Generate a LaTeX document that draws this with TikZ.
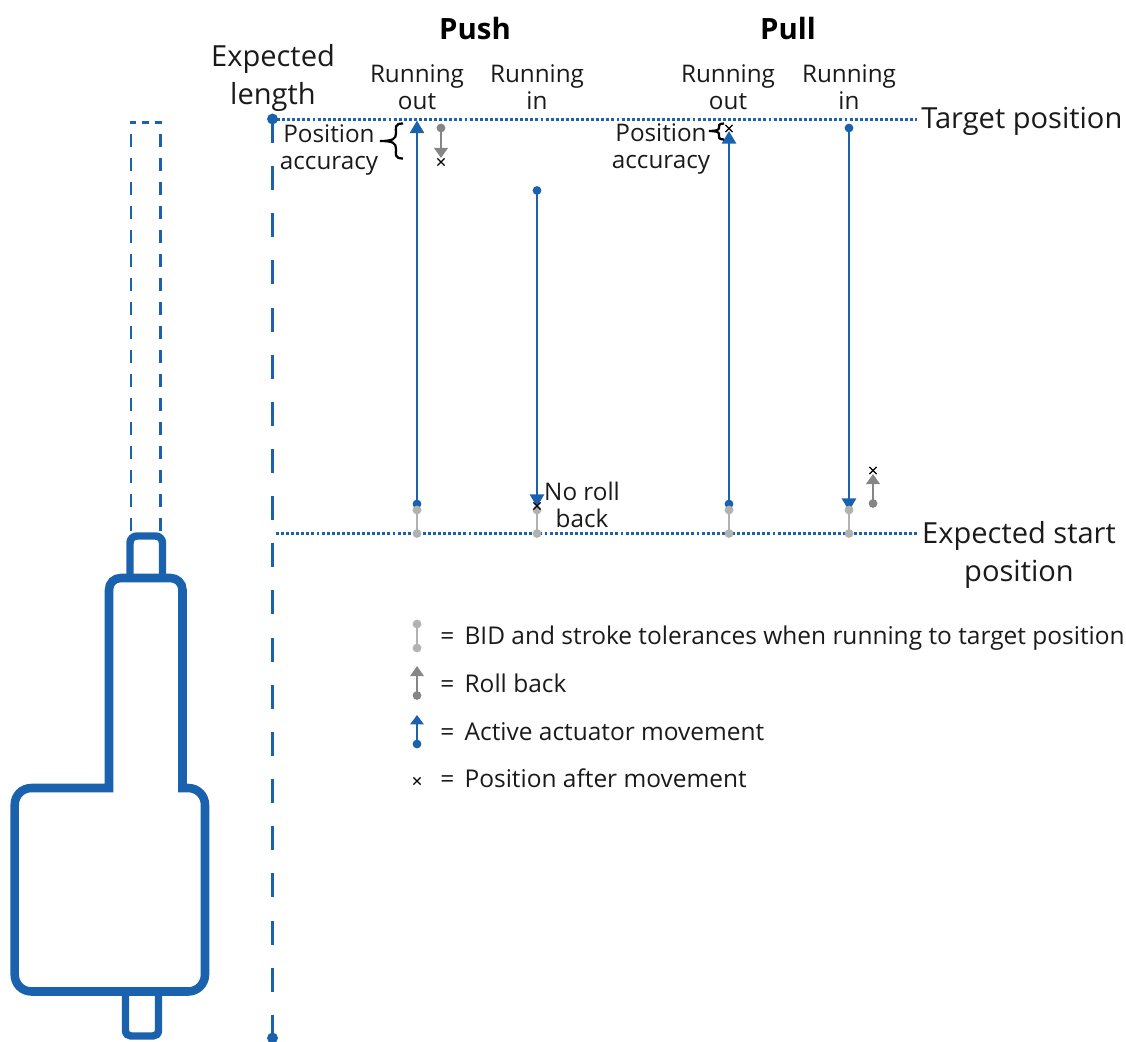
\documentclass[tikz,border=0pt]{standalone}
\usepackage{fontspec}
\setmainfont{Open Sans}
\usetikzlibrary{arrows.meta}
\definecolor{acblue}{HTML}{1B62AE}
\definecolor{tolgray}{HTML}{B2B2B2}
\definecolor{rbgray}{HTML}{868686}
\definecolor{inkc}{HTML}{1A1A1A}
\tikzset{
  x=0.75pt,y=-0.75pt,
  lab/.style={text=inkc,inner sep=0pt,font=\fontsize{21.8}{28.5}\selectfont,align=center},
  smalllab/.style={text=inkc,inner sep=0pt,font=\fontsize{18.2}{20.25}\selectfont,align=center},
  leglab/.style={text=inkc,inner sep=0pt,anchor=west,font=\fontsize{18.35}{20}\selectfont},
  boldlab/.style={text=black,inner sep=0pt,font=\fontsize{22}{24}\selectfont\bfseries},
  bigdot/.style={circle,fill=#1,draw=none,inner sep=0pt,minimum size=8.2pt},
  dotS/.style={circle,fill=#1,draw=none,inner sep=0pt,minimum size=6.6pt},
  bluearrow/.style={draw=acblue,line width=2.1pt,-{Triangle[length=9.5pt,width=10.5pt,fill=acblue]}},
  rbarrow/.style={draw=rbgray,line width=2.1pt,-{Triangle[length=7.5pt,width=10pt,fill=rbgray]}},
  tolline/.style={draw=tolgray,line width=2.2pt},
  guide/.style={draw=acblue,line width=2.2pt,dash pattern=on 2.2pt off 1.6pt},
  axisdash/.style={draw=acblue,line width=2.2pt,dash pattern=on 18pt off 17.36pt},
  pistondash/.style={draw=acblue,line width=2pt,dash pattern=on 9.75pt off 8.25pt},
  pistontop/.style={draw=acblue,line width=2pt},
  body/.style={draw=acblue,line width=6.4pt,line join=miter},
  smallbody/.style={draw=acblue,line width=5.6pt},
  crossm/.style={draw=black,line width=1pt},
  bracel/.style={draw=black,line width=1.7pt},
}
\newcommand{\crossat}[2]{\draw[crossm] (#1-3.6,#2-3.6) -- (#1+3.6,#2+3.6) (#1-3.6,#2+3.6) -- (#1+3.6,#2-3.6);}
\begin{document}
\begin{tikzpicture}
\useasboundingbox (0,0) rectangle (1126,1041);
% actuator
\draw[pistontop] (130,122.5) -- (136,122.5) (142,122.5) -- (149,122.5) (155,122.5) -- (161.5,122.5);
\draw[pistondash] (131,134) -- (131,531);
\draw[pistondash] (160.5,134) -- (160.5,531);
\draw[smallbody] (130,578) -- (130,543) .. controls (130,539) and (133,536) .. (137,536) -- (155.5,536) .. controls (159.5,536) and (162.5,539) .. (162.5,543) -- (162.5,578);
\draw[smallbody] (125.5,991.5) -- (125.5,1030) .. controls (125.5,1034) and (128,1036) .. (131,1036) -- (153,1036) .. controls (156,1036) and (158.5,1034) .. (158.5,1030) -- (158.5,991.5);
\draw[body] (109,788) -- (31.7,788) .. controls (22,788) and (14.7,795.3) .. (14.7,805) -- (14.7,974.5) .. controls (14.7,984) and (22,991.5) .. (31.7,991.5) -- (188,991.5) .. controls (197.5,991.5) and (205,984) .. (205,974.5) -- (205,805) .. controls (205,795.3) and (197.5,788) .. (188,788) -- (182.5,788) -- (182.5,590) .. controls (182.5,583) and (177,578) .. (170.5,578) -- (121,578) .. controls (114,578) and (109,583) .. (109,590) -- cycle;
% guides
\node[bigdot=acblue] (lenTop) at (272.5,119) {};
\node[bigdot=acblue] (lenBot) at (272.5,1038) {};
\draw[axisdash] (lenTop.center) -- (lenBot.center);
\coordinate (tgtL) at (272,119.5); \coordinate (tgtR) at (917,119.5);
\coordinate (stL) at (276,533.5); \coordinate (stR) at (917,533.5);
\draw[guide] (tgtL) -- (tgtR);
\draw[guide] (stL) -- (stR);
% blue movement arrows
\node[dotS=acblue] (a1) at (417,504) {}; \coordinate (a1t) at (417,120.5);
\draw[bluearrow] (a1.center) -- (a1t);
\node[dotS=acblue] (a2) at (537,190.5) {}; \coordinate (a2t) at (537,507);
\draw[bluearrow] (a2.center) -- (a2t);
\node[dotS=acblue] (a3) at (729,504) {}; \coordinate (a3t) at (729,131);
\draw[bluearrow] (a3.center) -- (a3t);
\node[dotS=acblue] (a4) at (849,128) {}; \coordinate (a4t) at (849,511);
\draw[bluearrow] (a4.center) -- (a4t);
% roll back
\node[dotS=rbgray] (r1) at (441,128) {}; \coordinate (r1t) at (441,158);
\draw[rbarrow] (r1.center) -- (r1t);
\node[dotS=rbgray] (r2) at (873,503.5) {}; \coordinate (r2t) at (873,474);
\draw[rbarrow] (r2.center) -- (r2t);
% tolerances
\foreach \nm/\xx in {p/417,q/537,s/729,u/849}{
  \node[dotS=tolgray] (\nm a) at (\xx,510) {};
  \node[dotS=tolgray] (\nm b) at (\xx,533.5) {};
  \draw[tolline] (\nm a.center) -- (\nm b.center);
}
% crosses
\crossat{441}{162}
\crossat{537}{506}
\crossat{729}{128.5}
\crossat{873}{470.5}
% braces
\draw[bracel] (403,123.5) .. controls (394,123.5) and (396,128) .. (396,133) .. controls (396,139) and (393,141) .. (380,141) .. controls (393,141) and (396,143) .. (396,149) .. controls (396,154) and (394,158.5) .. (403,158.5);
\draw[bracel] (724,123.5) .. controls (718,123.5) and (719,126) .. (719,128) .. controls (719,130) and (716,131) .. (709,131) .. controls (716,131) and (719,132) .. (719,134) .. controls (719,137) and (718,139.5) .. (724,139.5);
% text
\node[boldlab] (tPush) at (475,29) {Push};
\node[boldlab] (tPull) at (788,29) {Pull};
\node[lab] (tLen) at (273,78) {Expected\\length};
\node[smalllab] (tRo1) at (417,87) {Running\\out};
\node[smalllab] (tRi1) at (537,87) {Running\\in};
\node[smalllab] (tRo2) at (728,87) {Running\\out};
\node[smalllab] (tRi2) at (849,87) {Running\\in};
\node[lab,anchor=west] (tTgt) at (921,121) {Target position};
\node[lab] (tSt) at (1019,555) {Expected start\\position};
\node[smalllab] (tPa1) at (329,150.5) {Position\\accuracy};
\node[smalllab] (tPa2) at (661,149.5) {Position\\accuracy};
\node[smalllab] (tNo) at (582,505) {No roll\\back};
% legend
\node[dotS=tolgray] (l1a) at (417,624) {}; \node[dotS=tolgray] (l1b) at (417,648) {};
\draw[draw=tolgray,line width=1.4pt] (l1a.center) -- (l1b.center);
\node[dotS=rbgray] (l2a) at (417,695.5) {}; \coordinate (l2t) at (417,666);
\draw[rbarrow,line width=1.4pt] (l2a.center) -- (l2t);
\node[dotS=acblue] (l3a) at (417,744) {}; \coordinate (l3t) at (417,715);
\draw[bluearrow,line width=1.4pt,-{Triangle[length=7pt,width=10pt,fill=acblue]}] (l3a.center) -- (l3t);
\crossat{417}{781}
\node[leglab] (lg1) at (440,638) {=\hspace{3pt} BID and stroke tolerances when running to target position};
\node[leglab] (lg2) at (440,683) {=\hspace{3pt} Roll back};
\node[leglab] (lg3) at (440,732) {=\hspace{3pt} Active actuator movement};
\node[leglab] (lg4) at (440,778) {=\hspace{3pt} Position after movement};
\end{tikzpicture}
\end{document}
